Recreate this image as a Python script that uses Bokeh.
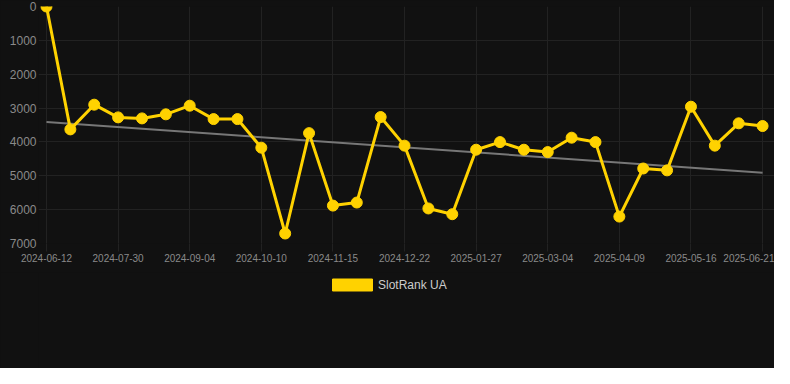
from bokeh.plotting import figure
from bokeh.layouts import column
from bokeh.models import Range1d, FixedTicker, Legend, LegendItem, ColumnDataSource
from bokeh.embed import file_html
from bokeh.resources import INLINE

# Data (rank position, lower is better)
tick_labels = ["2024-06-12", "2024-07-30", "2024-09-04", "2024-10-10", "2024-11-15",
               "2024-12-22", "2025-01-27", "2025-03-04", "2025-04-09", "2025-05-16",
               "2025-06-21"]
rank_values = [0, 3630, 2900, 3275, 3305, 3185, 2930, 3325, 3325, 4170,
               6705, 3740, 5880, 5790, 3265, 4110, 5965, 6135, 4230, 4005,
               4230, 4300, 3875, 4005, 6205, 4785, 4840, 2960, 4110, 3450, 3530]
trend_values = [3410, 4910]          # trend line at first and last point
series_name = "SlotRank UA"
y_ticks = [0, 1000, 2000, 3000, 4000, 5000, 6000, 7000]

idx = list(range(len(rank_values)))
tick_positions = idx[::3]

BG = "#111111"
GRID = "#222222"
GOLD = "#FFD200"
LABEL = "#8a8a8a"

p = figure(width=774, height=272, output_backend="svg", toolbar_location=None,
           x_range=Range1d(-0.335, 30.50), y_range=Range1d(7000, 0),
           background_fill_color=BG, border_fill_color=BG,
           min_border_top=6, min_border_left=38, min_border_right=0,
           min_border_bottom=29, outline_line_color=None)

p.xaxis.ticker = FixedTicker(ticks=tick_positions)
p.xaxis.major_label_overrides = {i: lab for i, lab in zip(tick_positions, tick_labels)}
p.yaxis.ticker = FixedTicker(ticks=y_ticks)
for ax in (p.xaxis[0], p.yaxis[0]):
    ax.axis_line_color = None
    ax.minor_tick_line_color = None
    ax.major_label_text_color = LABEL
    ax.major_label_text_font = "Liberation Sans"
p.xaxis.major_tick_line_color = GRID
p.xaxis.major_tick_out = 8
p.xaxis.major_tick_in = 0
p.xaxis.major_label_standoff = 2
p.xaxis.major_label_text_font_size = "10px"
p.yaxis.major_tick_line_color = None
p.yaxis.major_tick_out = 0
p.yaxis.major_tick_in = 0
p.yaxis.major_label_standoff = 2
p.yaxis.major_label_text_font_size = "12px"

p.xgrid.grid_line_color = GRID
p.ygrid.grid_line_color = GRID

p.line([idx[0], idx[-1]], trend_values, line_color="#777777", line_width=2)

src = ColumnDataSource(dict(x=idx, y=rank_values))
p.line("x", "y", source=src, line_color=GOLD, line_width=3)
p.scatter("x", "y", source=src, size=11, fill_color=GOLD, line_color=GOLD)

# legend strip below the chart; the swatch renderer sits outside the visible range
lg = figure(width=774, height=96, output_backend="svg", toolbar_location=None,
            x_range=Range1d(0, 1), y_range=Range1d(0, 1),
            x_axis_location=None, y_axis_location=None,
            background_fill_color=BG, border_fill_color=BG,
            min_border=0, outline_line_color=None)
lg.grid.visible = False
swatch = lg.quad(left=[5], right=[6], top=[6], bottom=[5], fill_color=GOLD, line_color=GOLD)
legend = Legend(items=[LegendItem(label=series_name, renderers=[swatch])],
                orientation="horizontal", location=(289, 76),
                background_fill_alpha=0, border_line_color=None,
                glyph_width=50, glyph_height=15, label_standoff=1,
                label_text_color="#cccccc", label_text_font="Liberation Sans",
                label_text_font_size="12px", padding=6, margin=0, spacing=0,
                label_height=12)
lg.add_layout(legend)

layout = column(p, lg, spacing=0, styles={"background-color": BG})

open("out.html", "w").write(file_html(layout, INLINE))
